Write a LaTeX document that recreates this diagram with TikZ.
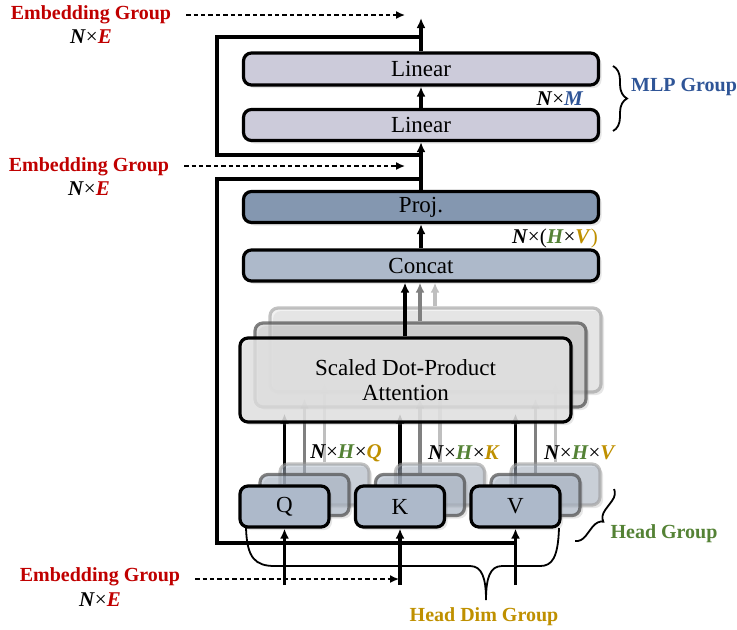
\documentclass[tikz,border=0pt]{standalone}
\usepackage{fontspec}
\setmainfont{Liberation Serif}
\usepackage{xcolor}
\usetikzlibrary{arrows.meta,positioning,shadows,backgrounds,decorations.pathreplacing}

\definecolor{embred}{HTML}{C00000}
\definecolor{mlpblue}{HTML}{2F5597}
\definecolor{headgreen}{HTML}{548235}
\definecolor{dimgold}{HTML}{BF9000}
\definecolor{linfill}{HTML}{CCCBDA}
\definecolor{projfill}{HTML}{8497B0}
\definecolor{catfill}{HTML}{ADB9CA}
\definecolor{attfill}{HTML}{E3E3E3}

% bold italic dimension letter
\newcommand{\bv}[2][black]{\textcolor{#1}{\textbf{\textit{#2}}}}

\begin{document}
\begin{tikzpicture}[
    x=0.5pt, y=-0.5pt,
    font=\fontsize{11.5}{12.5}\selectfont,
    box/.style={draw, line width=1.6pt, rounded corners=4pt, align=center,
                inner sep=0pt,
                drop shadow={shadow xshift=1.5pt, shadow yshift=-1.5pt,
                             opacity=0.2}},
    wide/.style={box, minimum width=177.5pt, minimum height=15.5pt},
    head/.style={box, minimum width=44.5pt, minimum height=20.5pt, fill=catfill},
    attn/.style={box, minimum width=165.5pt, minimum height=42pt},
    midcopy/.style={draw=black!70, draw opacity=0.7, fill opacity=0.6},
    backcopy/.style={draw=black!40, draw opacity=0.6, fill opacity=0.5},
    wire/.style={line width=1.6pt},
    line/.style={wire, -{Latex[length=5pt, width=4.5pt]}},
    embline/.style={dashed, dash pattern=on 2.2pt off 1.5pt, line width=0.75pt,
                    -{Latex[length=4.5pt, width=4pt]}},
    lbl/.style={font=\fontsize{10}{12}\selectfont\bfseries},
    dims/.style={font=\fontsize{10.5}{12}\selectfont},
    curly/.style={line width=0.9pt, decorate,
                  decoration={brace, amplitude=6pt}}
]
\useasboundingbox (0,0) rectangle (737,629);

% MLP block
\node[wide, fill=linfill, minimum height=16pt] (lin2) at (421,69)  {Linear};
\node[wide, fill=linfill]                      (lin1) at (421,125) {Linear};

% attention output
\node[wide, fill=projfill] (proj)   at (421,207)   {Proj.};
\node[wide, fill=catfill]  (concat) at (421,265.5) {Concat};

% stacked heads of attention
\node[attn, backcopy, fill=black!10] (attC) at (435.5,350) {};
\node[attn, midcopy,  fill=black!20] (attB) at (420.5,365) {};
\node[attn, fill=attfill, fill opacity=0.85, text opacity=1] (att) at (405.5,380)
     {Scaled Dot-Product\\Attention};

% Q, K, V projections (with copies behind)
\node[head, backcopy] (qC) at (324.5,484.5) {};
\node[head, backcopy] (kC) at (440,484.5)   {};
\node[head, backcopy] (vC) at (555.5,484.5) {};
\node[head, midcopy]  (qB) at (304.5,495)   {};
\node[head, midcopy]  (kB) at (420,495)     {};
\node[head, midcopy]  (vB) at (535.5,495)   {};
\node[head] (q) at (284.5,506.5) {Q};
\node[head] (k) at (400,506.5)   {K};
\node[head] (v) at (515.5,506.5) {V};

\begin{scope}[on background layer]
\draw[line, black!25] (qC.north) -- ([yshift=5pt]qC.north |- attC.south);
\draw[line, black!25] (kC.north) -- ([yshift=5pt]kC.north |- attC.south);
\draw[line, black!25] (vC.north) -- ([yshift=5pt]vC.north |- attC.south);
\draw[line, black!50] (qB.north) -- ([yshift=5pt]qB.north |- attB.south);
\draw[line, black!50] (kB.north) -- ([yshift=5pt]kB.north |- attB.south);
\draw[line, black!50] (vB.north) -- ([yshift=5pt]vB.north |- attB.south);
\draw[line] (q.north) -- ([yshift=5pt]q.north |- att.south);
\draw[line] (k.north) -- ([yshift=5pt]k.north |- att.south);
\draw[line] (v.north) -- ([yshift=5pt]v.north |- att.south);
\end{scope}

\draw[line, black!25] (attC.north -| 435,0) -- (435,0 |- concat.south);
\draw[line, black!50] (attB.north -| 420,0) -- (420,0 |- concat.south);
\draw[line]           (att.north  -| 405,0) -- (405,0 |- concat.south);

% main path
\coordinate (out) at (421,18);
\draw[line] (concat.north) -- (proj.south);
\draw[line] (proj.north) -- (lin1.south);
\draw[line] (lin1.north) -- (lin2.south);
\draw[line] (lin2.north) -- (out);

% inputs
\coordinate (inQ) at (284.5,585);
\coordinate (inK) at (400,585);
\coordinate (inV) at (515.5,585);
\draw[line] (inQ) -- (q.south);
\draw[line] (inK) -- (k.south);
\draw[line] (inV) -- (v.south);

% residual connections
\coordinate (res1) at (515.5,543);
\coordinate (add1) at (421,179);
\draw[wire] (res1) -- (217,543) -- (217,179) -- (add1);
\coordinate (res2) at (421,155);
\coordinate (add2) at (421,37);
\draw[wire] (res2) -- (217,155) -- (217,37) -- (add2);

% embedding labels
\node[lbl, embred] (emb3) at (91,15)  {Embedding Group};
\node[dims] (emb3d) at (91,37)  {\bv{N}×\bv[embred]{E}};
\node[lbl, embred] (emb2) at (89,167) {Embedding Group};
\node[dims] (emb2d) at (89,189) {\bv{N}×\bv[embred]{E}};
\node[lbl, embred] (emb1) at (100,577) {Embedding Group};
\node[dims] (emb1d) at (100,600) {\bv{N}×\bv[embred]{E}};
\coordinate (emb3e) at (405,15);
\coordinate (emb2e) at (405,166);
\coordinate (emb1e) at (399,579);
\draw[embline] ([xshift=4pt]emb3.east) -- (emb3e);
\draw[embline] ([xshift=4pt]emb2.east |- emb2e) -- (emb2e);
\draw[embline] ([xshift=4pt]emb1.east |- emb1e) -- (emb1e);

% sizes
\node[dims] (nm)  at (560,99)  {\bv{N}×\bv[mlpblue]{M}};
\node[dims] (nhv) at (555,238) {\bv{N}×(\bv[headgreen]{H}×\bv[dimgold]{V}\textcolor{dimgold}{)}};
\node[dims] (nhq) at (346,453) {\bv{N}×\bv[headgreen]{H}×\bv[dimgold]{Q}};
\node[dims] (nhk) at (464,453) {\bv{N}×\bv[headgreen]{H}×\bv[dimgold]{K}};
\node[dims] (nhw) at (580,453) {\bv{N}×\bv[headgreen]{H}×\bv[dimgold]{V}};

% groups
\draw[curly, decoration={amplitude=7pt}] (613,66) -- (613,131);
\node[lbl, mlpblue] (mlpg) at (684,87) {MLP Group};
\draw[curly, decoration={amplitude=5.5pt}] (614,489) -- (575,541);
\node[lbl, headgreen] (headg) at (664,534) {Head Group};
\draw[line width=0.9pt] (246,528) .. controls (247,558) and (255,566) .. (275,566)
    -- (470,566) .. controls (482,566) and (486,578) .. (486,600)
    .. controls (486,578) and (490,566) .. (502,566)
    -- (540,566) .. controls (552,566) and (558,558) .. (559,528);
\node[lbl, dimgold] (dimg) at (484,617) {Head Dim Group};
\end{tikzpicture}
\end{document}
